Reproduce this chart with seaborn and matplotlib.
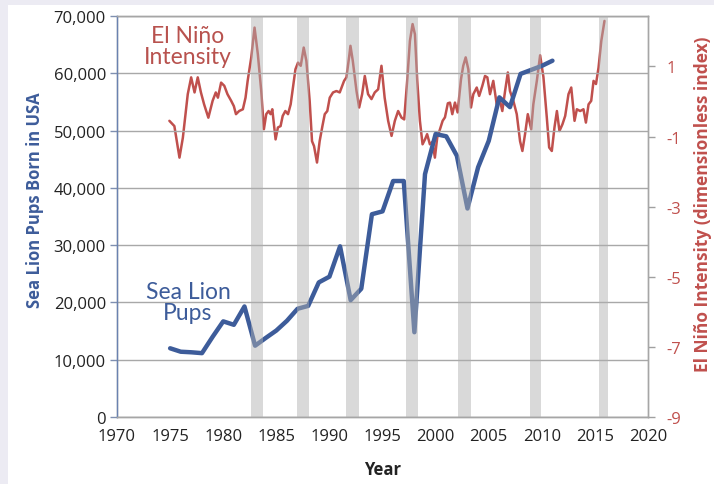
import numpy as np
import pandas as pd
import matplotlib
matplotlib.use('Agg')
import matplotlib.pyplot as plt
import seaborn as sns
from matplotlib.ticker import FuncFormatter
from matplotlib.patches import Rectangle

sns.set_style('white')
plt.rcParams['font.family'] = ['Open Sans', 'DejaVu Sans']
plt.rcParams['axes.unicode_minus'] = False

BLUE = '#3d5c9a'
RED = '#c0504d'

# sea lion pups born in USA, per year
pup_years = [1975, 1976, 1977, 1978, 1979, 1980, 1981, 1982, 1983, 1984, 1985, 1986,
             1987, 1988, 1989, 1990, 1991, 1992, 1993, 1994, 1995, 1996, 1997, 1998,
             1999, 2000, 2001, 2002, 2003, 2004, 2005, 2006, 2007, 2008, 2009, 2010, 2011]
pup_counts = [12000, 11400, 11300, 11150, 14000, 16700, 16100, 19300, 12450, 13800, 15100, 16800,
              18900, 19400, 23500, 24500, 29800, 20400, 22400, 35400, 35900, 41200, 41200, 14800,
              42400, 49400, 49000, 45600, 36400, 43600, 48200, 55800, 54100, 59900, 60600, 61300, 62200]

# el nino index
nino_years = [1974.93, 1975.4, 1975.88, 1976.2, 1976.66, 1976.98, 1977.3, 1977.6, 1977.9, 1978.2,
              1978.6, 1979.0, 1979.3, 1979.5, 1979.8, 1980.1, 1980.4, 1980.75, 1981.0, 1981.2,
              1981.5, 1981.85, 1982.1, 1982.3, 1982.64, 1982.95, 1983.26, 1983.58, 1983.83, 1984.05,
              1984.27, 1984.46, 1984.62, 1984.93, 1985.15, 1985.4, 1985.6, 1985.85, 1986.1, 1986.35,
              1986.57, 1986.8, 1987.04, 1987.3, 1987.58, 1987.83, 1988.14, 1988.36, 1988.55, 1988.83,
              1989.08, 1989.34, 1989.56, 1989.8, 1990.03, 1990.34, 1990.66, 1990.97, 1991.38, 1991.6,
              1991.85, 1991.98, 1992.2, 1992.55, 1992.8, 1993.08, 1993.33, 1993.64, 1993.96, 1994.27,
              1994.59, 1994.9, 1995.2, 1995.53, 1995.85, 1996.16, 1996.47, 1996.79, 1997.04, 1997.32,
              1997.58, 1997.83, 1998.05, 1998.27, 1998.52, 1998.77, 1999.0, 1999.2, 1999.46, 1999.7,
              1999.93, 2000.15, 2000.4, 2000.66, 2000.88, 2001.15, 2001.35, 2001.57, 2001.82, 2002.07,
              2002.39, 2002.6, 2002.83, 2003.08, 2003.33, 2003.55, 2003.87, 2004.1, 2004.4, 2004.65,
              2004.87, 2005.12, 2005.43, 2005.75, 2006.0, 2006.28, 2006.54, 2006.8, 2007.0, 2007.32,
              2007.64, 2007.95, 2008.17, 2008.42, 2008.68, 2009.0, 2009.2, 2009.53, 2009.84, 2010.15,
              2010.47, 2010.69, 2010.94, 2011.19, 2011.42, 2011.66, 2011.94, 2012.2, 2012.51, 2012.77,
              2013.08, 2013.3, 2013.61, 2013.92, 2014.15, 2014.4, 2014.65, 2014.87, 2015.1, 2015.34,
              2015.6, 2015.9]
nino_values = [-0.55, -0.70, -1.60, -1.03, 0.21, 0.69, 0.26, 0.69, 0.26, -0.08,
               -0.46, 0.02, 0.26, 0.11, 0.54, 0.45, 0.21, 0.02, -0.13, -0.36,
               -0.27, -0.22, 0.11, 0.59, 1.26, 2.11, 1.35, 0.30, -0.79, -0.36,
               -0.27, -0.36, -0.22, -1.08, -0.74, -0.70, -0.41, -0.27, -0.36, -0.08,
               0.40, 0.92, 1.11, 1.02, 1.54, 1.16, 0.02, -1.13, -1.27, -1.74,
               -1.13, -0.70, -0.36, -0.27, 0.11, 0.26, 0.30, 0.26, 0.59, 0.69,
               1.26, 1.59, 1.16, 0.30, -0.17, 0.21, 0.73, 0.21, 0.07, 0.26,
               0.35, 1.02, 0.11, -0.55, -0.98, -0.55, -0.27, -0.46, -0.51, 0.59,
               1.73, 2.21, 1.92, 0.59, -0.55, -1.22, -1.08, -0.93, -1.22, -1.15,
               -1.60, -1.03, -0.80, -0.55, -0.45, -0.05, -0.03, -0.36, -0.03, -0.31,
               0.64, 1.02, 1.26, 0.92, -0.17, 0.21, 0.40, 0.16, 0.45, 0.73,
               0.69, 0.21, 0.59, -0.08, 0.11, -0.27, 0.30, 0.83, 0.30, 0.02,
               -0.36, -1.13, -1.41, -0.93, -0.36, -0.79, -0.08, 0.59, 1.32, 0.70,
               -0.46, -1.31, -1.41, -0.74, -0.27, -0.84, -0.65, -0.41, 0.21, 0.40,
               -0.55, -0.22, -0.27, -0.22, -0.60, -0.08, 0.02, 0.59, 0.50, 0.97,
               1.73, 2.30]

# strong el nino periods (grey bands)
band_starts = [1982.6, 1986.9, 1991.6, 1997.2, 2002.1, 2008.85, 2015.4]
band_ends = [1983.75, 1988.1, 1992.8, 1998.3, 2003.3, 2009.95, 2016.2]

left_ticks = [0, 10000, 20000, 30000, 40000, 50000, 60000, 70000]
right_ticks = [1, -1, -3, -5, -7, -9]
year_ticks = [1970, 1975, 1980, 1985, 1990, 1995, 2000, 2005, 2010, 2015, 2020]

pups = pd.DataFrame({'Year': pup_years, 'Pups': pup_counts})
nino = pd.DataFrame({'Year': nino_years, 'Index': nino_values})

fig, ax = plt.subplots(figsize=(7.14, 4.85), dpi=100)
fig.patch.set_facecolor('#ecebf3')
fig.patches.append(Rectangle((8 / 714, 0), 1, 1 - 6 / 485, transform=fig.transFigure,
                             facecolor='white', edgecolor='none', zorder=-10))
fig.subplots_adjust(left=0.1639, right=0.9076, bottom=0.1381, top=0.9649)

ax2 = ax.twinx()
sns.lineplot(data=nino, x='Year', y='Index', ax=ax2, color=RED, linewidth=1.8)
sns.lineplot(data=pups, x='Year', y='Pups', ax=ax, color=BLUE, linewidth=3.2)

# put the left axes (pups + bands) on top of the el nino line
ax.set_zorder(ax2.get_zorder() + 1)
ax.patch.set_visible(False)
ax2.patch.set_facecolor('white')

for s, e in zip(band_starts, band_ends):
    ax.axvspan(s, e, color='#b0b0b0', alpha=0.48, lw=0, zorder=5)

ax.set_xlim(1970, 2020)
ax.set_ylim(0, 70000)
ax2.set_ylim(-9, 2.44)
ax.set_xticks(year_ticks)
ax.set_yticks(left_ticks)
ax2.set_yticks(right_ticks)
ax.yaxis.set_major_formatter(FuncFormatter(lambda v, p: f'{v:,.0f}'))
ax2.yaxis.set_major_formatter(FuncFormatter(lambda v, p: f'{v:.0f}'))

ax.grid(axis='y', color='#a8a8a8', linewidth=1.0)
ax.set_axisbelow(True)

ax.tick_params(axis='both', labelsize=12, colors='#222222', length=5, width=1, direction='out', pad=3)
ax.tick_params(axis='y', color='#7f8fb0')
ax.tick_params(axis='x', color='#a0a0a0')
ax2.tick_params(axis='y', labelsize=12, labelcolor=RED, color='#a0a0a0', length=5, width=1, pad=8)

for a in (ax, ax2):
    for sp in a.spines.values():
        sp.set_visible(True)
        sp.set_color('#a6a6a6')
        sp.set_linewidth(1.0)
ax.spines['left'].set_color('#6a82b0')

ax.set_xlabel('')
ax.set_ylabel('')
ax2.set_ylabel('')

fig.text(383 / 714, 1 - 470 / 485, 'Year', ha='center', va='center', fontsize=12, fontweight='bold',
         color='#222222')
fig.text(35 / 714, 1 - 200 / 485, 'Sea Lion Pups Born in USA', rotation=90, ha='center', va='center',
         fontsize=12, fontweight='bold', color=BLUE)
fig.text(703 / 714, 1 - 204 / 485, 'El Niño Intensity (dimensionless index)', rotation=90,
         ha='center', va='center', fontsize=12.5, fontweight='bold', color=RED)

ax.text((188 - 117) / 531, 1 - (47 - 17) / 401, 'El Niño\nIntensity', transform=ax.transAxes,
        ha='center', va='center', fontsize=16.5, color='#b8524e', family='Lato', linespacing=1.05,
        zorder=6)
ax.text((188 - 117) / 531, 1 - (303 - 17) / 401, 'Sea Lion\nPups', transform=ax.transAxes,
        ha='center', va='center', fontsize=16.5, color=BLUE, family='Lato', linespacing=1.05,
        zorder=6)

plt.savefig('out.png', dpi=100)
